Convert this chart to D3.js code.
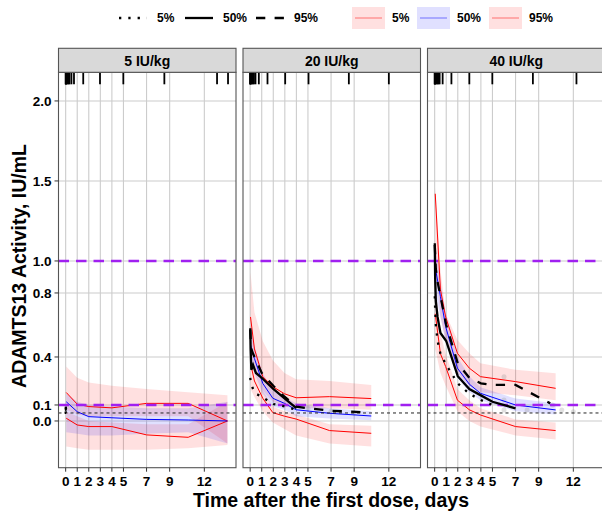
<!DOCTYPE html>
<html>
<head>
<meta charset="utf-8">
<script src="https://cdn.jsdelivr.net/npm/d3@7"></script>
<style>
  body { margin: 0; background: #fff; }
  text { font-family: "Liberation Sans", Arial, sans-serif; font-weight: bold; fill: #000; }
</style>
</head>
<body>
<div id="chart"></div>
<script>
// panels
const doses = ["5 IU/kg", "20 IU/kg", "40 IU/kg"];
const xTicks = [0, 1, 2, 3, 4, 5, 7, 9, 12];
const yTicks = [0.0, 0.1, 0.4, 0.8, 1.0, 1.5, 2.0];
const refLines = [0.1, 1.0];
const lloq = 0.05;

// simulated percentiles (median of sims) per panel
const simTime = [
  [0.05, 1, 2, 4, 7, 10.6, 14],
  [0.03, 0.37, 1.09, 1.96, 2.97, 3.98, 6.87, 10.48],
  [0.05, 0.5, 0.95, 1.97, 3, 3.96, 7.0, 10.47]
];
const sim05 = [
  [0.017, -0.025, -0.035, -0.035, -0.087, -0.102, 0.0],
  [0.36, 0.25, 0.142, 0.052, 0.03, 0.012, -0.06, -0.077],
  [0.67, 0.42, 0.34, 0.13, 0.07, 0.0375, -0.035, -0.06]
];
const sim50 = [
  [0.12, 0.058, 0.027, 0.02, 0.01, 0.006, 0.0],
  [0.475, 0.39, 0.235, 0.142, 0.11, 0.07, 0.048, 0.031],
  [0.96, 0.777, 0.59, 0.33, 0.23, 0.173, 0.1, 0.069]
];
const sim95 = [
  [0.178, 0.105, 0.09, 0.082, 0.11, 0.11, 0.0],
  [0.65, 0.45, 0.277, 0.214, 0.17, 0.145, 0.152, 0.14],
  [1.42, 0.82, 0.65, 0.423, 0.33, 0.277, 0.246, 0.204]
];

// 90% CI of the simulated percentiles
const ci05Lo = [
  [-0.16, -0.17, -0.18, -0.18, -0.18, -0.17, -0.15],
  [0.2, 0.15, 0.06, -0.01, -0.05, -0.09, -0.14, -0.16],
  [0.45, 0.3, 0.22, 0.06, 0.0, -0.035, -0.09, -0.115]
];
const ci05Hi = [
  [0.06, 0.03, 0.0, -0.01, -0.02, -0.02, 0.12],
  [0.45, 0.32, 0.19, 0.09, 0.06, 0.04, -0.02, -0.03],
  [0.85, 0.55, 0.42, 0.2, 0.13, 0.08, 0.01, -0.01]
];
const ci50Lo = [
  [-0.07, -0.08, -0.09, -0.09, -0.08, -0.07, -0.14],
  [0.36, 0.3, 0.17, 0.09, 0.07, 0.03, 0.015, 0.005],
  [0.8, 0.65, 0.5, 0.27, 0.18, 0.13, 0.06, 0.04]
];
const ci50Hi = [
  [0.17, 0.12, 0.1, 0.09, 0.08, 0.08, 0.12],
  [0.6, 0.47, 0.3, 0.19, 0.15, 0.11, 0.08, 0.06],
  [1.1, 0.87, 0.68, 0.4, 0.28, 0.21, 0.14, 0.11]
];
const ci95Lo = [
  [0.07, 0.04, 0.03, 0.03, 0.03, 0.03, -0.14],
  [0.45, 0.32, 0.19, 0.12, 0.09, 0.08, 0.08, 0.07],
  [1.0, 0.65, 0.5, 0.3, 0.22, 0.18, 0.16, 0.13]
];
const ci95Hi = [
  [0.34, 0.27, 0.24, 0.22, 0.2, 0.18, 0.16],
  [0.93, 0.68, 0.5, 0.38, 0.3, 0.26, 0.25, 0.225],
  [1.46, 0.95, 0.67, 0.506, 0.423, 0.36, 0.32, 0.298]
];

// observed percentiles
const obsTime = [
  [0.0035, 0.01, 0.02, 0.04],
  [0.01, 0.04, 0.1, 0.25, 0.5, 1, 2, 3, 4, 5, 7, 10],
  [0.01, 0.04, 0.1, 0.25, 0.5, 1, 2, 3, 4, 5, 7, 10]
];
const obs05 = [
  [0.06, 0.055, 0.05, 0.05],
  [0.27, 0.25, 0.23, 0.2, 0.17, 0.152, 0.106, 0.09, 0.07, null, null, null],
  [0.78, 0.7, 0.6, 0.5, 0.42, 0.35, 0.235, 0.17, 0.131, 0.1, null, null]
];
const obs50 = [
  [0.08, 0.075, 0.07, 0.065],
  [0.58, 0.45, 0.32, 0.35, 0.30, 0.27, 0.20, 0.14, 0.08, null, null, null],
  [1.11, 0.9, 0.75, 0.65, 0.55, 0.5, 0.28, 0.2, 0.16, 0.12, 0.079, null]
];
const obs95 = [
  [0.09, 0.085, 0.08, 0.075],
  [0.57, 0.52, 0.45, 0.42, 0.38, 0.30, 0.22, 0.15, 0.09, 0.079, 0.064, 0.054],
  [1.1, 1.05, 0.95, 0.87, 0.78, 0.6, 0.36, 0.27, 0.235, 0.225, 0.225, 0.11]
];

// raw observations (faint points)
const ptTime = [[], [5, 7, 9], [6, 6, 6, 8, 10.2, 11, 12]];
const ptValue = [[], [0.08, 0.06, 0.05], [0.277, 0.131, 0.069, 0.069, 0.1, 0.069, 0.058]];

// sampling times (rug)
const rugTime = [
  [0.0035, 0.01, 0.02, 0.04, 0.08, 0.17, 0.25, 0.33, 0.5, 0.72, 1.52, 2.97, 4.99, 8.54, 13.1, 14.05],
  [0.0035, 0.01, 0.02, 0.04, 0.08, 0.17, 0.25, 0.33, 0.46, 0.75, 1.5, 3.03, 5.05, 8.54, 12.0],
  [0.0035, 0.01, 0.02, 0.04, 0.08, 0.17, 0.25, 0.33, 0.43, 0.69, 1.45, 3.0, 4.99, 8.5, 12.27]
];

const legendLabels = ["5%", "50%", "95%"];

// layout
const width = 602, height = 511;
const panelLeft = [58.5, 243, 427.5];
const panelW = 177.5;
const panelTop = 72.3, panelBottom = 467.7, stripTop = 48.3;

const dotted = "2.3 7", dashed = "9.3 9.3";
const pink = "rgba(255,0,0,0.12)", lilac = "rgba(0,0,255,0.12)";

const svg = d3.select("#chart").append("svg")
  .attr("width", width)
  .attr("height", height);

const x = d3.scaleLinear().domain([-0.62, 14.74]).range([0, panelW]);
const y = d3.scaleLinear().domain([-0.292, 2.179]).range([panelBottom, panelTop]);

const defs = svg.append("defs");

const area = d3.area()
  .x((d) => x(d.t))
  .y0((d) => y(d.lo))
  .y1((d) => y(d.hi));

const line = d3.line()
  .defined((d) => d.v != null)
  .x((d) => x(d.t))
  .y((d) => y(d.v));

doses.forEach(function (dose, p) {
  const g = svg.append("g").attr("transform", `translate(${panelLeft[p]},0)`);

  defs.append("clipPath").attr("id", "clip" + p)
    .append("rect")
    .attr("x", 0).attr("y", panelTop)
    .attr("width", panelW).attr("height", panelBottom - panelTop);

  // grid
  g.selectAll(".vgrid").data(xTicks).enter().append("line")
    .attr("class", "vgrid")
    .attr("x1", (d) => x(d)).attr("x2", (d) => x(d))
    .attr("y1", panelTop).attr("y2", panelBottom)
    .attr("stroke", "#cccccc").attr("stroke-width", 1.1);
  g.selectAll(".hgrid").data(yTicks).enter().append("line")
    .attr("class", "hgrid")
    .attr("x1", 0).attr("x2", panelW)
    .attr("y1", (d) => y(d)).attr("y2", (d) => y(d))
    .attr("stroke", "#cccccc").attr("stroke-width", 1.1);

  const plot = g.append("g").attr("clip-path", `url(#clip${p})`);

  const band = (lo, hi) => simTime[p].map((t, i) => ({ t: t, lo: lo[p][i], hi: hi[p][i] }));
  plot.append("path").datum(band(ci05Lo, ci05Hi)).attr("fill", pink).attr("d", area);
  plot.append("path").datum(band(ci95Lo, ci95Hi)).attr("fill", pink).attr("d", area);
  plot.append("path").datum(band(ci50Lo, ci50Hi)).attr("fill", lilac).attr("d", area);

  // faint observations
  plot.selectAll(".pt").data(ptTime[p].map((t, i) => ({ t: t, v: ptValue[p][i] })))
    .enter().append("circle")
    .attr("class", "pt")
    .attr("cx", (d) => x(d.t)).attr("cy", (d) => y(d.v))
    .attr("r", 2.5)
    .attr("fill", "#999").attr("opacity", 0.3);

  const series = (arr, ts) => ts[p].map((t, i) => ({ t: t, v: arr[p][i] }));
  [[sim05, "red"], [sim95, "red"], [sim50, "blue"]].forEach(function (s) {
    plot.append("path").datum(series(s[0], simTime))
      .attr("fill", "none").attr("stroke", s[1]).attr("stroke-width", 1)
      .attr("d", line);
  });

  // reference lines
  plot.selectAll(".ref").data(refLines).enter().append("line")
    .attr("class", "ref")
    .attr("x1", 0).attr("x2", panelW)
    .attr("y1", (d) => y(d)).attr("y2", (d) => y(d))
    .attr("stroke", "#A020F0").attr("stroke-width", 2.6)
    .attr("stroke-dasharray", "10.5 7");
  plot.append("line")
    .attr("x1", 0).attr("x2", panelW)
    .attr("y1", y(lloq)).attr("y2", y(lloq))
    .attr("stroke", "#222").attr("stroke-width", 1)
    .attr("stroke-dasharray", "3 3");

  [[obs05, dotted], [obs50, null], [obs95, dashed]].forEach(function (s) {
    plot.append("path").datum(series(s[0], obsTime))
      .attr("fill", "none").attr("stroke", "#000").attr("stroke-width", 2.3)
      .attr("stroke-dasharray", s[1])
      .attr("d", line);
  });

  // rug
  g.selectAll(".rug").data(rugTime[p]).enter().append("line")
    .attr("class", "rug")
    .attr("x1", (d) => x(d)).attr("x2", (d) => x(d))
    .attr("y1", panelTop).attr("y2", panelTop + 12)
    .attr("stroke", "#000").attr("stroke-width", 1.8);

  // border + strip
  g.append("rect")
    .attr("x", 0).attr("y", panelTop).attr("width", panelW).attr("height", panelBottom - panelTop)
    .attr("fill", "none").attr("stroke", "#555").attr("stroke-width", 1.1);
  g.append("rect")
    .attr("x", 0).attr("y", stripTop).attr("width", panelW).attr("height", panelTop - stripTop)
    .attr("fill", "#d9d9d9").attr("stroke", "#555").attr("stroke-width", 1.1);
  g.append("text")
    .attr("x", panelW / 2).attr("y", 65.5)
    .attr("text-anchor", "middle")
    .style("font-size", "14px")
    .text(dose);

  // x axis
  g.selectAll(".xtick").data(xTicks).enter().append("line")
    .attr("class", "xtick")
    .attr("x1", (d) => x(d)).attr("x2", (d) => x(d))
    .attr("y1", panelBottom).attr("y2", panelBottom + 4)
    .attr("stroke", "#333");
  g.selectAll(".xlab").data(xTicks).enter().append("text")
    .attr("class", "xlab")
    .attr("x", (d) => x(d)).attr("y", 485.5)
    .attr("text-anchor", "middle")
    .style("font-size", "13.5px")
    .text((d) => d);
});

// y axis
svg.selectAll(".ytick").data(yTicks).enter().append("line")
  .attr("class", "ytick")
  .attr("x1", panelLeft[0] - 4).attr("x2", panelLeft[0])
  .attr("y1", (d) => y(d)).attr("y2", (d) => y(d))
  .attr("stroke", "#333");
svg.selectAll(".ylab").data(yTicks).enter().append("text")
  .attr("class", "ylab")
  .attr("x", panelLeft[0] - 7).attr("y", (d) => y(d) + 4.8)
  .attr("text-anchor", "end")
  .style("font-size", "13.5px")
  .text((d) => d.toFixed(1));

svg.append("text")
  .attr("x", 331).attr("y", 507)
  .attr("text-anchor", "middle")
  .style("font-size", "19.5px")
  .text("Time after the first dose, days");
svg.append("text")
  .attr("transform", "translate(26,266) rotate(-90)")
  .attr("text-anchor", "middle")
  .style("font-size", "19.5px")
  .text("ADAMTS13 Activity, IU/mL");

// legend: observed linetypes
const legY = 18;
const lineKeys = [119, 185, 256];
const lineDash = [dotted, null, dashed];
lineKeys.forEach(function (kx, i) {
  svg.append("line")
    .attr("x1", kx).attr("x2", kx + 28)
    .attr("y1", legY).attr("y2", legY)
    .attr("stroke", "#000").attr("stroke-width", 2.3)
    .attr("stroke-dasharray", lineDash[i]);
  svg.append("text")
    .attr("x", kx + 38).attr("y", legY + 4.4)
    .style("font-size", "12px")
    .text(legendLabels[i]);
});

// legend: simulated ribbons
const fillKeys = [352, 417, 489];
const fillCol = [pink, lilac, pink];
const fillLine = ["red", "blue", "red"];
fillKeys.forEach(function (kx, i) {
  svg.append("rect")
    .attr("x", kx).attr("y", legY - 11).attr("width", 33).attr("height", 22)
    .attr("fill", fillCol[i]);
  svg.append("line")
    .attr("x1", kx + 3).attr("x2", kx + 30)
    .attr("y1", legY).attr("y2", legY)
    .attr("stroke", fillLine[i]).attr("stroke-opacity", 0.5).attr("stroke-width", 1);
  svg.append("text")
    .attr("x", kx + 40).attr("y", legY + 4.4)
    .style("font-size", "12px")
    .text(legendLabels[i]);
});
</script>
</body>
</html>
